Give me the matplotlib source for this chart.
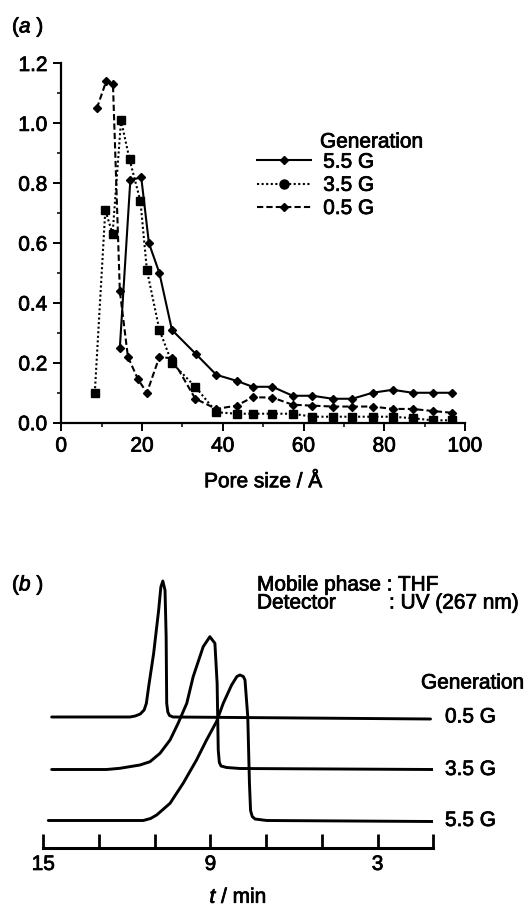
import matplotlib
matplotlib.use("Agg")
import matplotlib.pyplot as plt
import matplotlib.patheffects as pe
from matplotlib.lines import Line2D
from matplotlib.ticker import MultipleLocator, FormatStrFormatter

plt.rcParams['font.family'] = ['Liberation Sans', 'DejaVu Sans']
plt.rcParams['mathtext.fontset'] = 'custom'
plt.rcParams['mathtext.it'] = 'Liberation Sans:italic'
plt.rcParams['mathtext.rm'] = 'Liberation Sans'
# scanned text looks a bit heavier than the regular weight
heavy = [pe.withStroke(linewidth=0.55, foreground='black')]

# (a) pore size distribution
pore_55 = [14.5, 17.1, 19.8, 21.7, 24.3, 27.4, 33.3, 38.4, 43.4, 47.4, 52.3,
           57.3, 62.2, 67.2, 72.1, 77.1, 82.1, 87.0, 92.0, 96.9]
val_55 = [0.25, 0.81, 0.82, 0.60, 0.50, 0.31, 0.23, 0.16, 0.14, 0.12, 0.12,
          0.09, 0.09, 0.08, 0.08, 0.10, 0.11, 0.10, 0.10, 0.10]
pore_35 = [8.3, 10.9, 12.7, 14.8, 16.9, 19.6, 21.2, 24.3, 27.4, 33.2, 38.4,
           43.4, 47.4, 52.3, 57.3, 62.2, 67.2, 72.1, 77.1, 82.1, 87.0, 92.0, 96.9]
val_35 = [0.10, 0.71, 0.63, 1.01, 0.88, 0.74, 0.51, 0.31, 0.20, 0.12, 0.035,
          0.03, 0.03, 0.03, 0.03, 0.02, 0.02, 0.02, 0.02, 0.02, 0.015, 0.008, 0.008]
pore_05 = [8.8, 11.1, 12.8, 14.5, 16.5, 19.0, 21.2, 24.3, 27.4, 33.2, 38.4,
           43.4, 47.4, 52.3, 57.3, 62.2, 67.2, 72.1, 77.1, 82.1, 87.0, 92.0, 96.9]
val_05 = [1.05, 1.14, 1.13, 0.44, 0.22, 0.145, 0.10, 0.22, 0.215, 0.08, 0.046,
          0.057, 0.085, 0.084, 0.06, 0.057, 0.054, 0.054, 0.054, 0.046, 0.046, 0.039, 0.033]
gen_labels = ['5.5 G', '3.5 G', '0.5 G']

# (b) GPC traces (time in min, signal in arbitrary units above own baseline)
t_05 = [14.70, 11.89, 11.70, 11.52, 11.38, 11.30, 11.22, 11.04, 10.86, 10.78,
        10.71, 10.63, 10.59, 10.57, 10.53, 10.47, 10.34, 1.10]
s_05 = [0.0, 0.0, 0.01, 0.03, 0.07, 0.137, 0.30, 0.634, 1.067, 1.30,
        1.36, 1.267, 0.80, 0.137, 0.05, 0.015, 0.0, -0.02]
t_35 = [14.70, 12.73, 12.25, 11.53, 11.17, 10.81, 10.45, 10.16, 9.85, 9.62,
        9.26, 9.02, 8.84, 8.76, 8.72, 8.68, 8.62, 8.42, 7.94, 1.02]
s_35 = [0.0, 0.0, 0.012, 0.045, 0.078, 0.162, 0.295, 0.462, 0.662, 0.928,
        1.228, 1.328, 1.262, 0.862, 0.195, 0.07, 0.035, 0.02, 0.01, 0.0]
t_55 = [14.82, 11.41, 11.15, 10.93, 10.45, 9.98, 9.50, 9.14, 8.78, 8.54, 8.24,
        8.05, 7.94, 7.82, 7.76, 7.66, 7.60, 7.56, 7.50, 7.40, 6.98, 1.02]
s_55 = [0.0, 0.0, 0.02, 0.055, 0.172, 0.372, 0.605, 0.805, 0.99, 1.172, 1.355,
        1.44, 1.455, 1.44, 1.405, 1.038, 0.372, 0.10, 0.04, 0.015, 0.0, -0.01]
t_ticks = [15, 13, 11, 9, 7, 5, 3, 1]
t_ticklabels = ['15', '', '', '9', '', '', '3', '']

W, H = 529, 906
fig = plt.figure(figsize=(W / 100, H / 100), dpi=100)
fs = 15

# ---- panel (a)
ax = fig.add_axes([61.3 / W, 1 - 422.7 / H, 403.7 / W, 359.2 / H])
ax.plot(pore_55, val_55, color='black', lw=1.5, ls='-', marker='D', ms=4.5)
ax.plot(pore_35, val_35, color='black', lw=1.5, ls=(0, (1, 1.2)), marker='s', ms=6)
ax.plot(pore_05, val_05, color='black', lw=1.5, ls=(0, (3, 1.5)), marker='D', ms=4.5)
ax.set_xlim(0, 100)
ax.set_ylim(0, 1.2)
ax.xaxis.set_major_locator(MultipleLocator(20))
ax.xaxis.set_minor_locator(MultipleLocator(10))
ax.yaxis.set_major_locator(MultipleLocator(0.2))
ax.yaxis.set_minor_locator(MultipleLocator(0.1))
ax.yaxis.set_major_formatter(FormatStrFormatter('%.1f'))
for s in ['top', 'right']:
    ax.spines[s].set_visible(False)
for s in ['left', 'bottom']:
    ax.spines[s].set_linewidth(1.6)
ax.tick_params(which='major', direction='out', length=6, width=1.4, labelsize=fs, pad=4)
ax.tick_params(which='minor', direction='out', length=3, width=1.1)
for lab in ax.get_xticklabels() + ax.get_yticklabels():
    lab.set_path_effects(heavy)
ax.set_xlabel('Pore size / Å', fontsize=fs, labelpad=12, path_effects=heavy)

handles = [
    Line2D([], [], color='black', lw=1.5, ls='-', marker='D', ms=4.5),
    Line2D([], [], color='black', lw=1.5, ls=(0, (1, 1.2)), marker='o', ms=6.5),
    Line2D([], [], color='black', lw=1.5, ls=(0, (3, 1.5)), marker='D', ms=4.5),
]
leg = ax.legend(handles, gen_labels, loc='upper left', bbox_to_anchor=(0.463, 0.775),
                frameon=False, fontsize=fs, handlelength=2.6, handletextpad=0.6,
                labelspacing=0.2, borderaxespad=0)
for txt in leg.get_texts():
    txt.set_path_effects(heavy)
fig.text(320 / W, 1 - 142 / H, 'Generation', fontsize=fs, va='center', ha='left',
         path_effects=heavy)
fig.text(12 / W, 1 - 27 / H, r'($\mathit{a}$ )', fontsize=fs, va='center', ha='left',
         path_effects=heavy)

# ---- panel (b)
ax2 = fig.add_axes([43.3 / W, 1 - 848 / H, 390 / W, 278 / H])
offsets = [1.035, 0.51, 0.0]
for t, s, off in zip([t_05, t_35, t_55], [s_05, s_35, s_55], offsets):
    ax2.plot(t, [v + off for v in s], color='black', lw=2.1,
             solid_joinstyle='round', solid_capstyle='round')
ax2.set_xlim(15, 1)
ax2.set_ylim(-0.275, 2.505)
for s in ['top', 'right', 'left']:
    ax2.spines[s].set_visible(False)
ax2.spines['bottom'].set_linewidth(2.2)
ax2.set_yticks([])
ax2.set_xticks(t_ticks)
ax2.set_xticklabels(t_ticklabels)
ax2.tick_params(axis='x', direction='in', length=10, width=2, labelsize=fs, pad=5)
for lab in ax2.get_xticklabels():
    lab.set_path_effects(heavy)
ax2.set_xlabel(r'$\mathit{t}$ / min', fontsize=fs, labelpad=10, path_effects=heavy)

for lab, off in zip(['0.5 G', '3.5 G', '5.5 G'], offsets):
    ax2.text(1.03, off, lab, transform=ax2.get_yaxis_transform(), fontsize=fs,
             va='center', ha='left', clip_on=False, path_effects=heavy)
fig.text(421 / W, 1 - 683 / H, 'Generation', fontsize=fs, va='center', ha='left',
         path_effects=heavy)
fig.text(257 / W, 1 - 585 / H, 'Mobile phase : THF', fontsize=fs, va='center', ha='left',
         path_effects=heavy)
fig.text(257 / W, 1 - 603 / H, 'Detector', fontsize=fs, va='center', ha='left',
         path_effects=heavy)
fig.text(389 / W, 1 - 603 / H, ': UV (267 nm)', fontsize=fs, va='center', ha='left',
         path_effects=heavy)
fig.text(12 / W, 1 - 585 / H, r'($\mathit{b}$ )', fontsize=fs, va='center', ha='left',
         path_effects=heavy)

fig.savefig('out.png', dpi=100)
